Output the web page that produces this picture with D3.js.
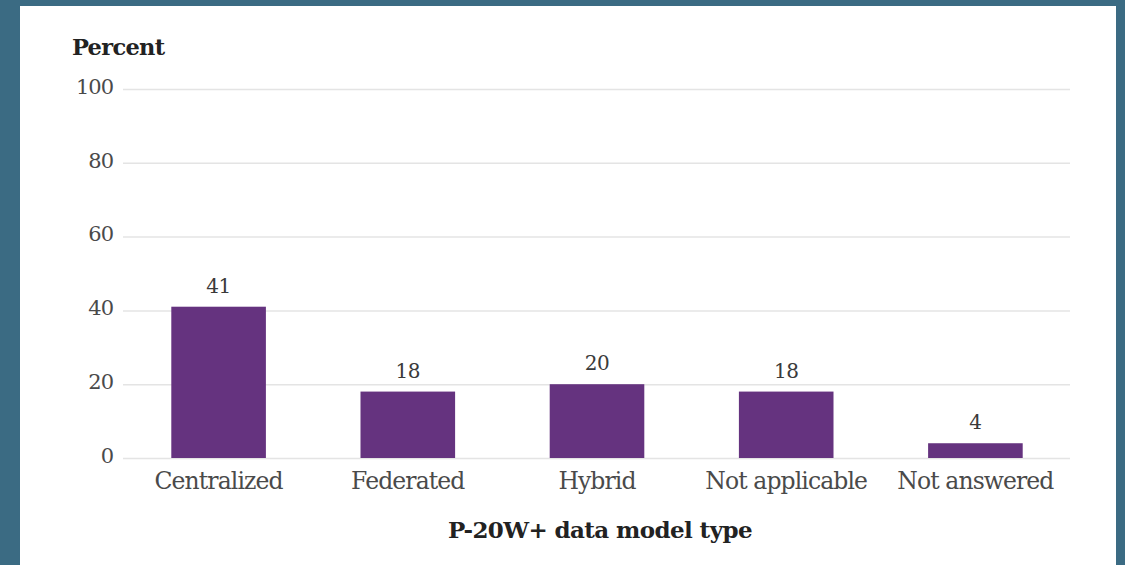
<!DOCTYPE html>
<html>
<head>
<meta charset="utf-8">
<script src="https://cdn.jsdelivr.net/npm/d3@7"></script>
<style>
  html, body { margin: 0; padding: 0; background: #3b6b83; }
  svg { display: block; }
</style>
</head>
<body>
<svg id="chart" width="1125" height="565"></svg>
<script>
// data
var categories = ["Centralized", "Federated", "Hybrid", "Not applicable", "Not answered"];
var values = [41, 18, 20, 18, 4];
var yTicks = [0, 20, 40, 60, 80, 100];

var svg = d3.select('#chart');
var serif = "'DejaVu Serif', 'Liberation Serif', serif";

// white panel inside the teal frame
svg.append('rect')
  .attr('x', 20).attr('y', 6)
  .attr('width', 1096).attr('height', 565)
  .attr('fill', '#ffffff');

var x = d3.scaleBand()
  .domain(categories)
  .range([124, 1070])
  .paddingInner(0.5)
  .paddingOuter(0.25);

var y = d3.scaleLinear()
  .domain([0, 100])
  .range([458, 89]);

// gridlines + tick labels
var yAxis = d3.axisLeft(y)
  .tickValues(yTicks)
  .tickSize(-(1070 - 123))
  .tickPadding(10);

var gy = svg.append('g')
  .attr('transform', 'translate(123,0)')
  .call(yAxis);
gy.select('.domain').remove();
gy.selectAll('.tick line').attr('stroke', '#e4e4e4').attr('stroke-width', 1.5);
gy.selectAll('.tick text')
  .attr('fill', '#4a4a4a')
  .attr('font-family', serif)
  .attr('font-size', 21)
  .attr('letter-spacing', '-1px')
  .attr('dy', '0.2em');

// bars
svg.selectAll('rect.bar').data(values)
  .enter().append('rect')
  .attr('class', 'bar')
  .attr('x', function(d, i){ return x(categories[i]) })
  .attr('y', function(d){ return y(d) })
  .attr('width', x.bandwidth())
  .attr('height', function(d){ return y(0) - y(d) })
  .attr('fill', '#65337f');

// value labels
svg.selectAll('text.val').data(values)
  .enter().append('text')
  .attr('class', 'val')
  .attr('x', function(d, i){ return x(categories[i]) + x.bandwidth() / 2 })
  .attr('y', function(d){ return y(d) - 14 })
  .attr('text-anchor', 'middle')
  .attr('font-family', serif)
  .attr('font-size', 20)
  .attr('letter-spacing', '-0.5px')
  .attr('fill', '#3a3a3a')
  .text(function(d){ return d });

// category labels
var gx = svg.append('g')
  .attr('transform', 'translate(0,458)')
  .call(d3.axisBottom(x).tickSize(0).tickPadding(13));
gx.select('.domain').remove();
gx.selectAll('.tick text')
  .attr('fill', '#4a4a4a')
  .attr('font-family', serif)
  .attr('font-size', 23.5)
  .attr('letter-spacing', '-0.9px')
  .attr('dy', '0.75em');

// titles
svg.append('text')
  .attr('x', 72).attr('y', 55)
  .attr('font-family', serif)
  .attr('font-weight', 'bold')
  .attr('font-size', 22.5)
  .attr('letter-spacing', '-0.7px')
  .attr('fill', '#222')
  .text('Percent');

svg.append('text')
  .attr('x', 600).attr('y', 538)
  .attr('text-anchor', 'middle')
  .attr('font-family', serif)
  .attr('font-weight', 'bold')
  .attr('font-size', 23)
  .attr('letter-spacing', '-0.6px')
  .attr('fill', '#222')
  .text('P-20W+ data model type');
</script>
</body>
</html>
